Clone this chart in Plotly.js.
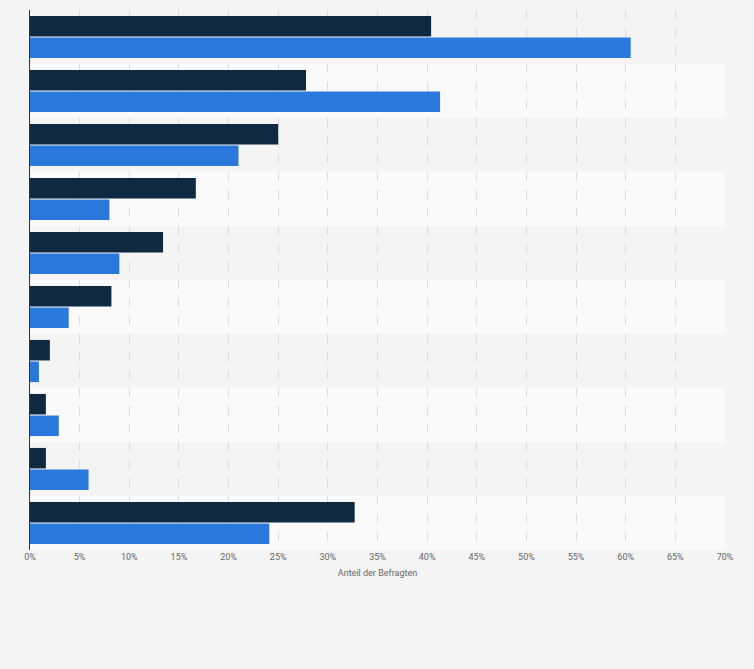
<!DOCTYPE html>
<html><head><meta charset="utf-8">
<script src="https://cdn.plot.ly/plotly-3.0.1.min.js"></script>
<style>body{margin:0;background:#f4f4f4}</style></head>
<body><div id="c" style="width:754px;height:669px"></div>
<script>
const categories = ["1","2","3","4","5","6","7","8","9","10"];
const seriesA = [40.4, 27.8, 25.0, 16.7, 13.4, 8.2, 2.0, 1.6, 1.6, 32.7];
const seriesB = [60.5, 41.3, 21.0, 8.0, 9.0, 3.9, 0.9, 2.9, 5.9, 24.1];
const tickVals = [0,5,10,15,20,25,30,35,40,45,50,55,60,65,70];
const tickText = tickVals.map(v => v + "%");

const shapes = categories.map((c, i) => ({
  type: "rect", xref: "paper", yref: "y", layer: "below",
  x0: 0, x1: 1, y0: i - 0.5, y1: i + 0.5,
  fillcolor: i % 2 === 0 ? "#f4f4f4" : "#fafafa", line: {width: 0}
}));

Plotly.newPlot("c", [
  {type: "bar", orientation: "h", y: categories, x: seriesA, marker: {color: "#0f2942"}, hoverinfo: "x"},
  {type: "bar", orientation: "h", y: categories, x: seriesB, marker: {color: "#2a78dc"}, hoverinfo: "x"}
], {
  width: 754, height: 669, paper_bgcolor: "#f4f4f4", plot_bgcolor: "rgba(0,0,0,0)",
  margin: {l: 30, r: 29, t: 10, b: 119},
  barmode: "group", bargap: 0.2, bargroupgap: 0.05, showlegend: false,
  shapes: shapes,
  xaxis: {range: [0, 70], tickvals: tickVals, ticktext: tickText, showgrid: true,
    gridcolor: "#dcdcdc", griddash: "dash", zeroline: false,
    tickfont: {family: "Roboto, Arial", size: 9, color: "#666"},
    title: {text: "Anteil der Befragten", font: {family: "Roboto, Arial", size: 9, color: "#666"}, standoff: 8}},
  yaxis: {type: "category", autorange: "reversed", showticklabels: false, showgrid: false,
    showline: true, linecolor: "#333", linewidth: 1, zeroline: false}
}, {displayModeBar: false});
</script></body></html>
